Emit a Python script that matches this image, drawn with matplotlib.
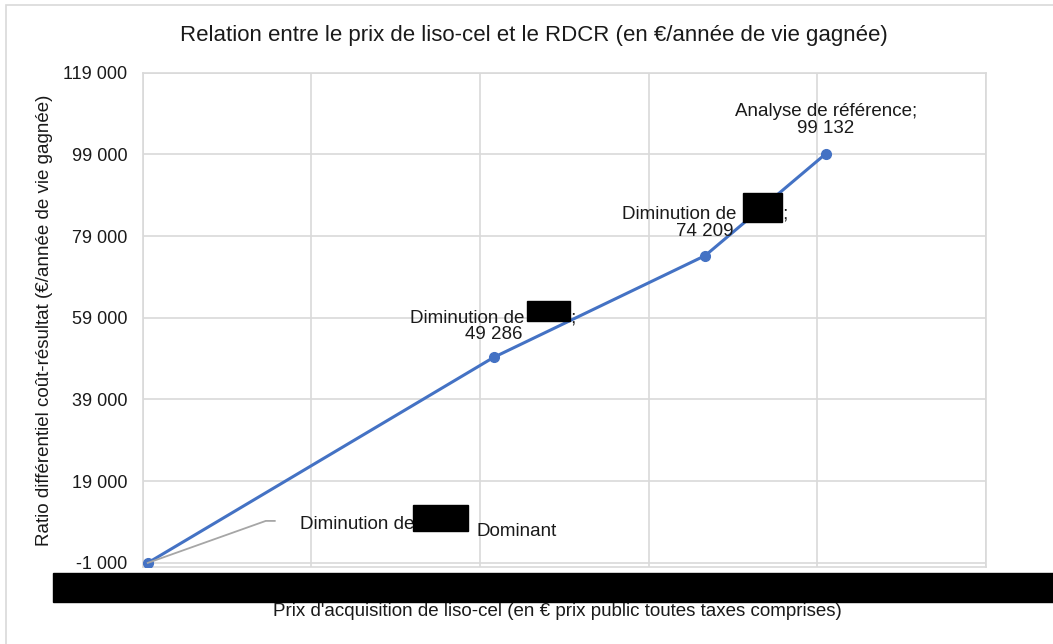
import matplotlib
matplotlib.use("Agg")
import matplotlib.pyplot as plt
from matplotlib.patches import Rectangle
from matplotlib.ticker import FuncFormatter

plt.rcParams['font.family'] = ['Liberation Sans', 'DejaVu Sans']

# data (x = price, real values are redacted in the source -> relative units)
prix = [0.03, 2.08, 3.335, 4.05]
rdcr = [-1000, 49286, 74209, 99132]
fs = "\u2007"
labels = ["", "Diminution de " + fs * 4 + ";\n49 286",
          "Diminution de " + fs * 4 + ";\n74 209",
          "Analyse de référence;\n99 132"]
yticks = [-1000, 19000, 39000, 59000, 79000, 99000, 119000]

W, H = 1053, 644
fig = plt.figure(figsize=(W / 100, H / 100), dpi=100)
ax = fig.add_axes([142.7 / W, 1 - 567 / H, (986 - 142.7) / W, (567 - 72.6) / H])

grid_c = '#D9D9D9'
blue = '#4472C4'
txt_c = '#1a1a1a'

ax.set_xlim(0, 5)
ax.set_ylim(-2000, 119000)
ax.set_xticks(range(6))
ax.set_yticks(yticks)
ax.yaxis.set_major_formatter(FuncFormatter(lambda v, p: f"{int(v):,}".replace(",", " ")))
ax.tick_params(axis='x', length=0, labelbottom=False)
ax.tick_params(axis='y', length=0, pad=11, labelsize=13, labelcolor=txt_c)
ax.grid(True, color=grid_c, lw=1.2)
ax.set_axisbelow(True)
for s in ax.spines.values():
    s.set_color(grid_c)
    s.set_linewidth(1.2)

ax.plot(prix, rdcr, color=blue, lw=2.2, marker='o', ms=7, zorder=3)

# data labels
offs = [0, 14, 16, 17]
for x, y, lab, o in zip(prix[1:], rdcr[1:], labels[1:], offs[1:]):
    ax.annotate(lab, (x, y), xytext=(0, o), textcoords='offset pixels',
                ha='center', va='bottom', fontsize=13.5, linespacing=1.0,
                color=txt_c)

# leader line + label of first point
x0, y0 = ax.transData.transform((prix[0], rdcr[0]))
inv = fig.transFigure.inverted()
pts = [(x0, y0), (x0 + 118, y0 + 42), (x0 + 127, y0 + 42)]
fig.add_artist(plt.Line2D([inv.transform(p)[0] for p in pts],
                          [inv.transform(p)[1] for p in pts],
                          color='#A6A6A6', lw=1.3, transform=fig.transFigure))
ax.annotate("Diminution de", (prix[0], rdcr[0]), xytext=(152, 38),
            textcoords='offset pixels', ha='left', va='center',
            fontsize=13.5, color=txt_c)
ax.annotate("Dominant", (prix[0], rdcr[0]), xytext=(329, 31),
            textcoords='offset pixels', ha='left', va='center',
            fontsize=13.5, color=txt_c)

fig.text(534 / W, 1 - 35 / H,
         "Relation entre le prix de liso-cel et le RDCR (en €/année de vie gagnée)",
         ha='center', va='center', fontsize=16, color=txt_c)
fig.text(557 / W, 1 - 612 / H,
         "Prix d'acquisition de liso-cel (en € prix public toutes taxes comprises)",
         ha='center', va='center', fontsize=13.5, color=txt_c, zorder=11)
fig.text(45 / W, 1 - 320 / H,
         "Ratio différentiel coût-résultat (€/année de vie gagnée)",
         ha='center', va='center', rotation=90, fontsize=13.5, color=txt_c)

# chart frame and redaction boxes (pixel coords, top-left origin)
def px_rect(x1, y1, x2, y2, **kw):
    fig.add_artist(Rectangle((x1 / W, 1 - y2 / H), (x2 - x1) / W, (y2 - y1) / H,
                             transform=fig.transFigure, **kw))

px_rect(6, 5, 1060, 660, fill=False, edgecolor='#D9D9D9', lw=1.2)
px_rect(53, 573, 1053, 602, color='black', zorder=10)
px_rect(413, 505, 468, 531, color='black', zorder=10)
px_rect(527, 301, 570, 321, color='black', zorder=10)
px_rect(743, 193, 782, 222, color='black', zorder=10)

fig.savefig("out.png", dpi=100)
